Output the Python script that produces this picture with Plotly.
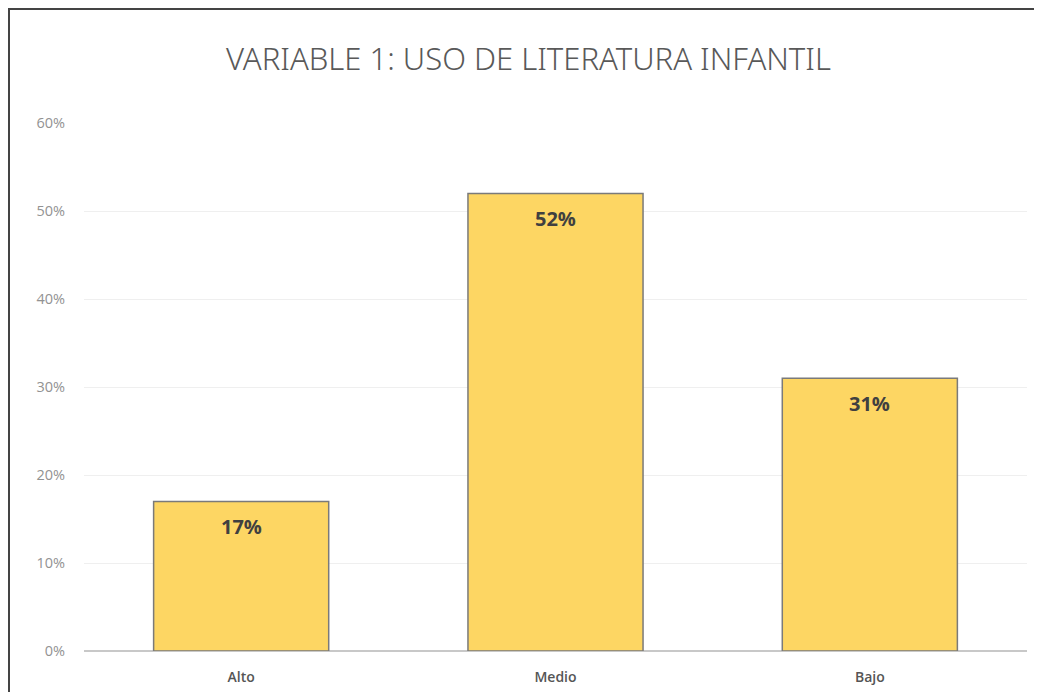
import plotly.graph_objects as go

categories = ["Alto", "Medio", "Bajo"]
values = [0.17, 0.52, 0.31]
labels = ["17%", "52%", "31%"]
tick_vals = [0, 0.1, 0.2, 0.3, 0.4, 0.5, 0.6]
tick_text = ["0%", "10%", "20%", "30%", "40%", "50%", "60%"]
title_text = "VARIABLE 1: USO DE LITERATURA INFANTIL"

# page has an 8px body margin; figure spans page pixels 8..1042, 8..692
OFF = 8
W, H = 1034, 684
L, R, T, B = 76, 15, 115, 41
pw, ph = W - L - R, H - T - B

def px_x(p):
    return (p - OFF - L) / pw

def px_y(p):
    return (H - B - (p - OFF)) / ph

fig = go.Figure()
fig.add_trace(go.Bar(
    x=categories, y=values,
    marker=dict(color="#FDD663", line=dict(color="#7a7a7a", width=1.5)),
    width=0.557,
    hoverinfo="skip",
))

for c, v, t in zip(categories, values, labels):
    fig.add_annotation(x=c, y=v, text="<b>" + t + "</b>", showarrow=False,
                       yanchor="top", yshift=-10,
                       font=dict(family="Open Sans", size=20, color="#404040"))

fig.add_annotation(xref="paper", yref="paper", x=px_x(528), y=px_y(58),
                   text=title_text, showarrow=False, xanchor="center", yanchor="middle",
                   font=dict(family="Noto Sans", size=31, color="#595959", weight=300))

# outer frame (left and top edges)
fig.add_shape(type="line", xref="paper", yref="paper",
              x0=px_x(9), y0=px_y(9), x1=px_x(9), y1=px_y(700),
              line=dict(color="#444444", width=2))
fig.add_shape(type="line", xref="paper", yref="paper",
              x0=px_x(8), y0=px_y(9), x1=px_x(1042), y1=px_y(9),
              line=dict(color="#444444", width=2))

fig.update_layout(
    width=W, height=H,
    margin=dict(l=L, r=R, t=T, b=B, autoexpand=False),
    paper_bgcolor="white", plot_bgcolor="white",
    showlegend=False,
    xaxis=dict(showgrid=False, showline=False, ticks="", automargin=False,
               ticklabelstandoff=16,
               tickfont=dict(family="Open Sans", size=14, color="#555555", weight=600),
               range=[-0.5, 2.5]),
    yaxis=dict(range=[0, 0.6], tickvals=tick_vals, ticktext=tick_text, automargin=False,
               showgrid=True, gridcolor="#efefef", gridwidth=1,
               zeroline=True, zerolinecolor="#c8c8c8", zerolinewidth=1.5,
               showline=False, ticks="", ticklabelstandoff=18,
               tickfont=dict(family="Open Sans", size=14.5, color="#929292")),
)

fig.write_html("out.html", config={"displayModeBar": False})
